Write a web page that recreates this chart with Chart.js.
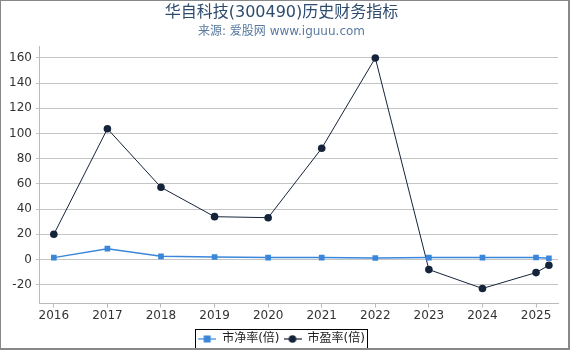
<!DOCTYPE html>
<html>
<head>
<meta charset="utf-8">
<script src="https://cdn.jsdelivr.net/npm/chart.js@4/dist/chart.umd.min.js"></script>
<style>
  html, body { margin: 0; padding: 0; background: #fff; }
  #wrap { width: 567px; height: 347px; border-left: 1px solid #888; border-top: 1px solid #888; border-right: 2px solid #888; border-bottom: 2px solid #888; }
  canvas { display: block; }
</style>
</head>
<body>
<div id="wrap"><canvas id="chart" width="567" height="347"></canvas></div>
<script>
// years (last point is a partial year)
const years = [2016, 2017, 2018, 2019, 2020, 2021, 2022, 2023, 2024, 2025, 2025.24];
const pbValues = [1.5, 8.6, 2.5, 2.0, 1.5, 1.5, 1.2, 1.5, 1.5, 1.6, 1.0];
const peValues = [20, 103.8, 57.3, 34, 33.2, 88.3, 160, -8, -23, -10.4, -4.6];
const xTicks = [2016, 2017, 2018, 2019, 2020, 2021, 2022, 2023, 2024, 2025];
const yTicks = [-20, 0, 20, 40, 60, 80, 100, 120, 140, 160];

const pbColor = '#3a86da';
const peColor = '#15243a';
const font = '"DejaVu Sans", "Noto Sans CJK SC", sans-serif';

function legendIcon(color, shape) {
  const c = document.createElement('canvas');
  c.width = 18; c.height = 10;
  const g = c.getContext('2d');
  g.strokeStyle = color;
  g.lineWidth = 1.2;
  g.beginPath(); g.moveTo(0, 5); g.lineTo(18, 5); g.stroke();
  g.fillStyle = color;
  if (shape === 'rect') g.fillRect(5.5, 1.5, 7, 7);
  else { g.beginPath(); g.arc(9, 5, 3.8, 0, Math.PI * 2); g.fill(); }
  return c;
}

const legendBorder = {
  id: 'legendBorder',
  afterDraw(chart) {
    const boxes = chart.legend.legendHitBoxes;
    if (!boxes || !boxes.length) return;
    const first = boxes[0], last = boxes[boxes.length - 1];
    const ctx = chart.ctx;
    ctx.save();
    ctx.strokeStyle = '#000';
    ctx.lineWidth = 1;
    const x0 = Math.round(first.left - 3) + 0.5;
    const x1 = Math.round(last.left + last.width + 2) + 0.5;
    const y0 = Math.round(first.top - 4) + 0.5;
    const y1 = Math.round(first.top + first.height + 4) - 0.5;
    ctx.strokeRect(x0, y0, x1 - x0, y1 - y0);
    ctx.restore();
  }
};

new Chart(document.getElementById('chart').getContext('2d'), {
  type: 'line',
  data: {
    datasets: [
      {
        label: '市净率(倍)',
        data: years.map((x, i) => ({ x: x, y: pbValues[i] })),
        borderColor: pbColor,
        backgroundColor: pbColor,
        borderWidth: 1.5,
        pointStyle: 'rect',
        pointRadius: 4,
        pointBorderWidth: 0,
        tension: 0
      },
      {
        label: '市盈率(倍)',
        data: years.map((x, i) => ({ x: x, y: peValues[i] })),
        borderColor: peColor,
        backgroundColor: peColor,
        borderWidth: 1,
        pointStyle: 'circle',
        pointRadius: 3.8,
        pointBorderWidth: 0,
        tension: 0
      }
    ]
  },
  options: {
    responsive: false,
    animation: false,
    layout: { padding: { left: 4, right: 10, top: 0, bottom: -7 } },
    plugins: {
      title: {
        display: true,
        text: '华自科技(300490)历史财务指标',
        color: '#2d4b6f',
        font: { family: font, size: 16, weight: 'normal' },
        padding: { top: 2, bottom: 2 }
      },
      subtitle: {
        display: true,
        text: '来源: 爱股网 www.iguuu.com',
        color: '#5a7aa0',
        font: { family: font, size: 12 },
        padding: { top: 0, bottom: 8 }
      },
      legend: {
        position: 'bottom',
        labels: {
          font: { family: font, size: 12 },
          color: '#222',
          usePointStyle: true,
          pointStyleWidth: 18,
          padding: 4,
          generateLabels(chart) {
            return chart.data.datasets.map((ds, i) => ({
              text: ds.label,
              datasetIndex: i,
              fontColor: '#222',
              pointStyle: legendIcon(ds.borderColor, ds.pointStyle),
              lineWidth: 0,
              hidden: false
            }));
          }
        }
      },
      tooltip: { enabled: false }
    },
    scales: {
      x: {
        type: 'linear',
        min: 2015.74,
        max: 2025.41,
        afterBuildTicks(axis) { axis.ticks = xTicks.map(v => ({ value: v })); },
        afterFit(axis) { axis.height += 5; },
        ticks: { color: '#333', font: { family: font, size: 12 }, padding: 1, maxRotation: 0, callback: v => String(v) },
        grid: { drawOnChartArea: false, drawTicks: true, tickLength: 4, color: '#bbb' },
        border: { color: '#bbb' }
      },
      y: {
        min: -35,
        max: 169,
        afterBuildTicks(axis) { axis.ticks = yTicks.map(v => ({ value: v })); },
        ticks: { color: '#333', font: { family: font, size: 12 }, padding: 4 },
        grid: { color: '#c4c4c4', tickLength: 4 },
        border: { color: '#bbb' }
      }
    }
  },
  plugins: [legendBorder]
});
</script>
</body>
</html>
